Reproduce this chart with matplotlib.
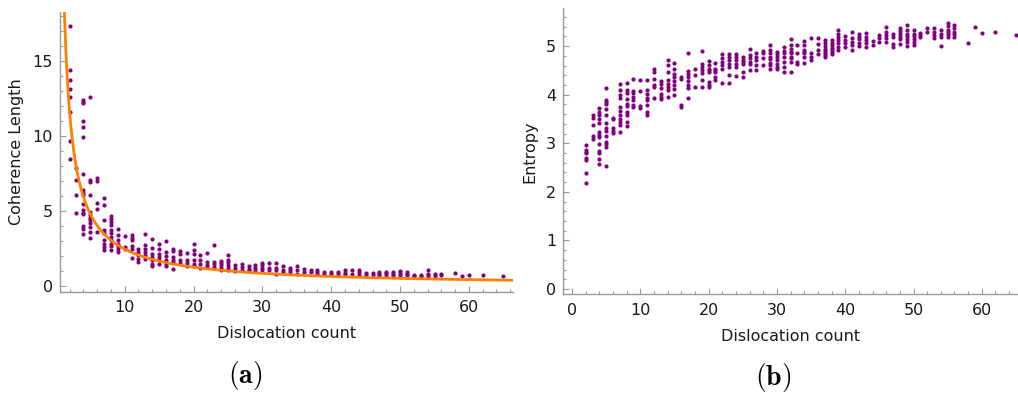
import numpy as np
import matplotlib
matplotlib.use("Agg")
import matplotlib.pyplot as plt
from matplotlib.ticker import MultipleLocator

plt.rcParams['mathtext.fontset'] = 'cm'
plt.rcParams['font.family'] = ['DejaVu Sans']

# ---------------- Panel (a): coherence length vs dislocation count ----------------
coh_counts = [2, 3, 4, 5, 6, 7, 8, 9, 10, 11, 12, 13, 14, 15, 16, 17, 18, 19, 20,
              21, 22, 23, 24, 25, 26, 27, 28, 29, 30, 31, 32, 33, 34, 35, 36, 37,
              38, 39, 40, 41, 42, 43, 44, 45, 46, 47, 48, 49, 50, 51, 52, 53, 54,
              55, 56, 58, 59, 60, 62, 65]
coh_values = [
    [17.33, 14.4, 13.73, 13.11, 12.58, 11.62, 9.69, 8.51],
    [7.89, 7.11, 6.07, 4.89],
    [12.4, 12.29, 12.18, 10.98, 10.62, 9.96, 7.49, 6.43, 6.2, 6.07, 5.51, 5.07, 4.9, 4.8, 4.0, 3.84, 3.47],
    [12.58, 7.11, 6.96, 6.07, 4.96, 4.73, 4.58, 4.4, 4.22, 3.96, 3.62, 3.24],
    [7.24, 7.02, 5.56, 5.18, 3.64],
    [5.91, 5.4, 4.4, 3.73, 3.56, 3.07, 2.84, 2.62, 2.4],
    [4.67, 4.51, 4.29, 4.07, 3.78, 3.56, 3.29, 3.07, 2.84, 2.67, 2.4],
    [3.84, 3.4, 3.07, 2.84, 2.67, 2.51, 2.29],
    [3.36, 2.62, 2.51],
    [3.4, 3.24, 3.07, 2.67, 2.51, 1.91],
    [2.51, 2.29, 2.07, 1.84, 1.62],
    [3.51, 2.73, 2.51, 2.29, 2.07, 1.84],
    [3.18, 2.58, 2.18, 1.96, 1.73, 1.51, 1.33],
    [2.8, 2.51, 2.18, 1.96, 1.73, 1.47],
    [3.02, 2.29, 2.0, 1.73, 1.47, 1.33],
    [2.51, 2.36, 1.96, 1.78, 1.62, 1.13],
    [2.36, 2.13, 1.73, 1.56],
    [2.24, 1.73, 1.56, 1.33],
    [2.82, 2.40, 2.13, 1.73, 1.51, 1.33],
    [2.07, 1.73, 1.51, 1.24],
    [2.24, 1.62, 1.44, 1.29],
    [2.78, 1.62, 1.47, 1.29],
    [1.69, 1.56, 1.40, 1.24, 1.11],
    [2.07, 1.78, 1.62, 1.40, 1.24, 1.07],
    [1.40, 1.24, 1.0],
    [1.47, 1.29, 1.11],
    [1.33, 1.18, 1.07],
    [1.40, 1.24, 1.07],
    [1.56, 1.40, 1.24, 1.11],
    [1.56, 1.24, 1.07],
    [1.56, 1.24, 1.07, 0.80],
    [1.33, 1.11, 0.96],
    [1.24, 1.07, 0.96],
    [1.33, 1.11, 0.84],
    [1.18, 0.96],
    [1.11, 0.96],
    [1.11, 0.96, 0.80],
    [0.96, 0.84],
    [0.96, 0.80],
    [0.96, 0.84],
    [1.07, 0.89, 0.80],
    [1.07, 0.84],
    [1.11, 0.96, 0.78],
    [0.89, 0.78],
    [0.89, 0.78],
    [0.96, 0.84, 0.78],
    [0.96, 0.89, 0.78],
    [0.96, 0.84, 0.78],
    [1.02, 0.89, 0.78],
    [0.96, 0.84, 0.78],
    [0.78, 0.67],
    [0.78, 0.67],
    [1.07, 0.84, 0.73, 0.62],
    [0.84, 0.67],
    [0.84, 0.73],
    [0.89],
    [0.67],
    [0.76],
    [0.76],
    [0.71],
]
# power-law fit  L = A * n^(-B)
fit_A = 22.6
fit_B = 0.96

# ---------------- Panel (b): entropy vs dislocation count ----------------
ent_counts = [2, 3, 4, 5, 6, 7, 8, 9, 10, 11, 12, 13, 14, 15, 16, 17, 18, 19, 20,
              21, 22, 23, 24, 25, 26, 27, 28, 29, 30, 31, 32, 33, 34, 35, 36, 37,
              38, 39, 40, 41, 42, 43, 44, 45, 46, 47, 48, 49, 50, 51, 52, 53, 54,
              55, 56, 58, 59, 60, 62, 65]
ent_values = [
    [2.96, 2.86, 2.83, 2.79, 2.69, 2.65, 2.38, 2.19],
    [3.59, 3.53, 3.37, 3.15, 3.08],
    [3.72, 3.65, 3.58, 3.51, 3.42, 3.24, 3.18, 3.13, 2.98, 2.84, 2.79, 2.67, 2.57],
    [4.14, 3.90, 3.85, 3.80, 3.71, 3.59, 3.42, 3.31, 3.25, 3.15, 3.03, 2.98, 2.93, 2.54],
    [3.53, 3.50, 3.31, 3.25, 3.22],
    [4.22, 4.09, 3.99, 3.94, 3.75, 3.66, 3.58, 3.49, 3.44, 3.37, 3.24],
    [4.25, 4.09, 4.03, 3.92, 3.81, 3.77, 3.65, 3.58, 3.43, 3.35],
    [4.32, 4.08, 4.03, 3.96, 3.90, 3.79, 3.74],
    [4.30, 4.08, 3.77, 3.72],
    [4.30, 4.09, 4.01, 3.94, 3.89, 3.79, 3.65, 3.59],
    [4.52, 4.47, 4.33, 4.20, 4.15, 3.94],
    [4.28, 4.23, 4.13, 4.01, 3.96, 3.91],
    [4.71, 4.61, 4.47, 4.30, 4.22, 4.15, 4.09, 3.96],
    [4.66, 4.54, 4.42, 4.36, 4.28, 4.20, 4.12, 3.99],
    [4.37, 4.33, 3.79, 3.75],
    [4.85, 4.49, 4.42, 4.36, 4.29, 4.20, 4.13, 3.94],
    [4.54, 4.40, 4.15],
    [4.90, 4.64, 4.57, 4.51, 4.44, 4.30, 4.15],
    [4.70, 4.61, 4.54, 4.51, 4.47, 4.27, 4.20, 4.15],
    [4.66, 4.54, 4.51, 4.47, 4.37, 4.30],
    [4.83, 4.75, 4.68, 4.61, 4.54, 4.24],
    [4.83, 4.77, 4.71, 4.64, 4.58, 4.40, 4.25],
    [4.83, 4.77, 4.71, 4.64, 4.58, 4.38],
    [4.77, 4.71, 4.68, 4.64, 4.47, 4.37],
    [4.94, 4.82, 4.75, 4.68, 4.64, 4.51],
    [4.85, 4.78, 4.71, 4.62, 4.51],
    [4.90, 4.85, 4.75, 4.61],
    [5.03, 4.92, 4.85, 4.78, 4.73, 4.66, 4.61, 4.54],
    [4.88, 4.83, 4.77, 4.71, 4.64, 4.58, 4.52],
    [4.99, 4.90, 4.85, 4.78, 4.68, 4.58, 4.46],
    [5.14, 5.02, 4.95, 4.88, 4.85, 4.78, 4.75, 4.68, 4.46],
    [5.02, 4.85, 4.68, 4.64],
    [5.11, 5.02, 4.92, 4.88, 4.85, 4.78, 4.66],
    [5.16, 4.85, 4.78, 4.71],
    [5.16, 5.04, 4.92, 4.84],
    [5.12, 5.06, 5.00, 4.95, 4.90, 4.85, 4.82, 4.77],
    [5.12, 5.07, 5.02, 4.97, 4.92, 4.87, 4.84],
    [5.33, 5.26, 5.19, 5.12, 5.06, 4.99, 4.93],
    [5.21, 5.12, 5.06, 4.99],
    [5.29, 5.16, 5.09, 5.02, 4.92],
    [5.25, 5.19, 5.14, 5.07, 5.00],
    [5.27, 5.19, 5.12, 5.06, 4.99],
    [5.11, 5.02],
    [5.23, 5.16, 5.09],
    [5.40, 5.29, 5.23, 5.16, 5.09],
    [5.26, 5.19, 5.04, 4.99],
    [5.37, 5.32, 5.26, 5.19, 5.14, 5.05],
    [5.43, 5.33, 5.26, 5.21, 5.14, 5.09, 5.00],
    [5.33, 5.26, 5.21, 5.14, 5.09, 5.03],
    [5.27, 5.23, 5.18],
    [5.37, 5.29],
    [5.38, 5.29, 5.23, 5.16],
    [5.33, 5.26, 5.19, 5.00],
    [5.48, 5.41, 5.34, 5.29, 5.25, 5.19],
    [5.43, 5.38, 5.29, 5.25, 5.19],
    [5.07],
    [5.40],
    [5.27],
    [5.29],
    [5.24],
]

x_label = "Dislocation count"
y_label_a = "Coherence Length"
y_label_b = "Entropy"
panel_labels = ["(a)", "(b)"]

POINT_COLOR = "#800080"
FIT_COLOR = "#FF7F00"
AXIS_COLOR = "#9a9a9a"
TEXT_COLOR = "#1a1a1a"


def flatten(counts, values):
    xs, ys = [], []
    for c, vals in zip(counts, values):
        for v in vals:
            xs.append(c)
            ys.append(v)
    return np.array(xs, float), np.array(ys, float)


def style_axes(ax):
    for s in ("top", "right"):
        ax.spines[s].set_visible(False)
    for s in ("left", "bottom"):
        ax.spines[s].set_color(AXIS_COLOR)
        ax.spines[s].set_linewidth(1.0)
    ax.tick_params(which="both", direction="in", color=AXIS_COLOR,
                   labelcolor=TEXT_COLOR, labelsize=11.5, width=0.8)
    ax.tick_params(which="major", length=4.0)
    ax.tick_params(which="minor", length=2.2)
    ax.tick_params(axis="x", pad=6)
    ax.tick_params(axis="y", pad=5)


fig = plt.figure(figsize=(10.18, 3.94), dpi=100)

# Panel (a)
ax1 = fig.add_axes([60 / 1018, (394 - 292) / 394, (513 - 60) / 1018, (292 - 12) / 394])
xa, ya = flatten(coh_counts, coh_values)
ax1.scatter(xa, ya, s=9, color=POINT_COLOR, linewidths=0, zorder=2)
xf = np.linspace(0.61, 66.4, 600)
ax1.plot(xf, fit_A * xf ** (-fit_B), color=FIT_COLOR, lw=2.0, zorder=3)
ax1.set_xlim(0.61, 66.4)
ax1.set_ylim(-0.38, 18.27)
ax1.xaxis.set_major_locator(MultipleLocator(10))
ax1.xaxis.set_minor_locator(MultipleLocator(2))
ax1.yaxis.set_major_locator(MultipleLocator(5))
ax1.yaxis.set_minor_locator(MultipleLocator(1))
style_axes(ax1)
ax1.set_xlabel(x_label, fontsize=11.5, color=TEXT_COLOR, labelpad=8)
ax1.set_ylabel(y_label_a, fontsize=11.5, color=TEXT_COLOR, labelpad=6)

# Panel (b)
ax2 = fig.add_axes([563 / 1018, (394 - 294.3) / 394, (1018 - 563) / 1018, (294.3 - 8.3) / 394])
xb, yb = flatten(ent_counts, ent_values)
ax2.scatter(xb, yb, s=9, color=POINT_COLOR, linewidths=0, zorder=2)
ax2.set_xlim(-1.32, 65.3)
ax2.set_ylim(-0.11, 5.78)
ax2.xaxis.set_major_locator(MultipleLocator(10))
ax2.xaxis.set_minor_locator(MultipleLocator(2))
ax2.yaxis.set_major_locator(MultipleLocator(1))
ax2.yaxis.set_minor_locator(MultipleLocator(0.2))
style_axes(ax2)
ax2.set_xlabel(x_label, fontsize=11.5, color=TEXT_COLOR, labelpad=8)
ax2.set_ylabel(y_label_b, fontsize=11.5, color=TEXT_COLOR, labelpad=6)

fig.text(245 / 1018, 1 - 376 / 394, r"$\mathbf{" + panel_labels[0] + "}$",
         fontsize=20, ha="center", va="center", color="black")
fig.text(773 / 1018, 1 - 378 / 394, r"$\mathbf{" + panel_labels[1] + "}$",
         fontsize=20, ha="center", va="center", color="black")

fig.savefig("out.png", dpi=100)
